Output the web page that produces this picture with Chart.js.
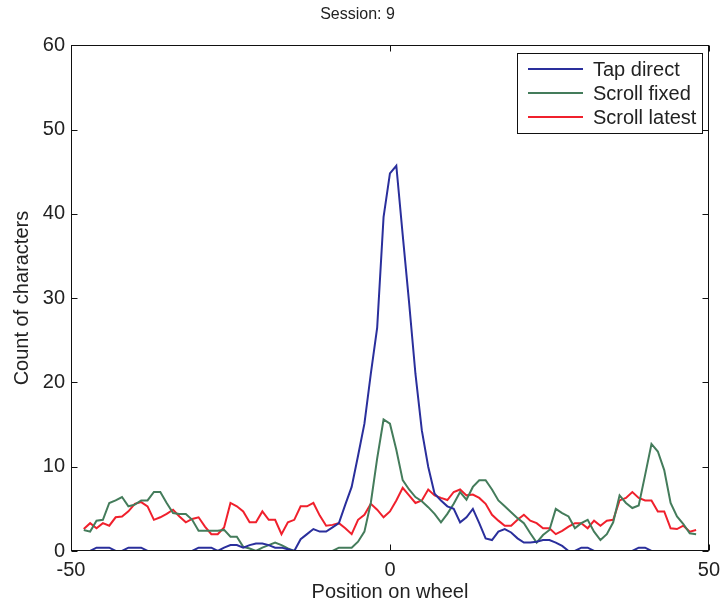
<!DOCTYPE html>
<html>
<head>
  <meta charset="utf-8" />
  <title>Session: 9</title>
  <script src="https://cdn.jsdelivr.net/npm/chart.js"></script>
  <style>
    body { margin: 0; background: #fff; }
    canvas { display: block; }
  </style>
</head>
<body>
  <canvas id="wheelChart" width="727" height="608"></canvas>
<script>
// positions on the wheel, -48 .. 48
const positions = [];
for (let p = -48; p <= 48; p++) positions.push(p);

const tapDirect = [
  0, 0, 0.4, 0.4, 0.4, 0, 0, 0.4, 0.4, 0.4,
  0, 0, 0, 0, 0, 0, 0, 0, 0.4, 0.4,
  0.4, 0, 0.4, 0.7, 0.7, 0.4, 0.7, 0.9, 0.9, 0.7,
  0.4, 0.4, 0.2, 0, 1.4, 2.0, 2.6, 2.3, 2.3, 2.8,
  3.3, 5.5, 7.6, 11.3, 15.1, 21.0, 26.5, 39.6, 44.8, 45.7,
  37.5, 29.5, 21.0, 14.3, 10.0, 6.8, 6.0, 5.3, 5.0, 3.4,
  4.0, 5.0, 3.3, 1.5, 1.3, 2.3, 2.6, 2.2, 1.5, 1.0,
  1.0, 1.1, 1.3, 1.3, 1.0, 0.6, 0, 0, 0.4, 0.4,
  0, 0, 0, 0, 0, 0, 0, 0.4, 0.4, 0,
  0, 0, 0, 0, 0, 0, 0
];

const scrollFixed = [
  2.5, 2.3, 3.6, 3.7, 5.7, 6.0, 6.4, 5.3, 5.5, 6.0,
  6.0, 7.0, 7.0, 5.7, 4.5, 4.4, 4.4, 3.7, 2.4, 2.4,
  2.4, 2.4, 2.5, 1.7, 1.7, 0.5, 0.3, 0, 0.4, 0.7,
  1.0, 0.7, 0.3, 0, 0, 0, 0, 0, 0, 0,
  0.4, 0.4, 0.4, 1.1, 2.3, 5.7, 11.0, 15.6, 15.1, 12.0,
  8.4, 7.3, 6.4, 5.9, 5.2, 4.4, 3.4, 4.4, 5.6, 7.0,
  6.1, 7.6, 8.4, 8.4, 7.3, 6.0, 5.3, 4.6, 3.9, 3.3,
  2.1, 1.0, 1.9, 2.5, 5.0, 4.5, 4.1, 2.7, 3.3, 3.7,
  2.3, 1.3, 2.0, 3.4, 6.6, 5.7, 5.1, 5.4, 9.0, 12.7,
  11.8, 9.6, 5.7, 4.1, 3.2, 2.1, 2.0
];

const scrollLatest = [
  2.6, 3.3, 2.7, 3.3, 3.0, 4.0, 4.1, 4.7, 5.6, 5.8,
  5.3, 3.7, 4.0, 4.4, 4.9, 4.1, 3.4, 3.8, 4.0, 2.9,
  2.0, 2.0, 2.8, 5.7, 5.3, 4.7, 3.4, 3.4, 4.7, 3.7,
  3.7, 2.0, 3.4, 3.7, 5.3, 5.3, 5.7, 4.2, 3.0, 3.1,
  3.3, 2.7, 2.0, 3.7, 4.3, 5.6, 4.9, 4.0, 4.7, 6.0,
  7.5, 6.6, 5.7, 6.0, 7.3, 6.6, 6.3, 6.05, 7.0, 7.3,
  6.6, 6.7, 6.3, 5.6, 4.3, 3.6, 3.0, 3.0, 3.7, 4.3,
  3.6, 3.3, 2.7, 2.7, 2.0, 2.4, 2.9, 3.3, 3.3, 2.7,
  3.6, 3.0, 3.6, 3.7, 6.0, 6.3, 7.0, 6.3, 6.0, 6.0,
  4.7, 4.7, 2.7, 2.6, 3.0, 2.3, 2.5
];

const seriesNames = ['Tap direct', 'Scroll fixed', 'Scroll latest'];
const seriesColors = ['#2a2f9c', '#447c5b', '#f0202c'];
const xTicks = [-50, 0, 50];
const yTicks = [0, 10, 20, 30, 40, 50, 60];

const FONT = "'Liberation Sans', Arial, Helvetica, sans-serif";
Chart.defaults.font.family = FONT;
Chart.defaults.font.size = 20;
Chart.defaults.color = '#222';

function points(values) {
  return positions.map((x, i) => ({ x: x, y: values[i] }));
}

// box around the axes with inward ticks on all four sides, plus the legend
const boxPlugin = {
  id: 'matlabBox',
  afterDatasetsDraw(chart) {
    const { ctx, chartArea: a, scales } = chart;
    const L = Math.round(a.left) + 0.5, R = Math.round(a.right) - 0.5;
    const T = Math.round(a.top) + 0.5, B = Math.round(a.bottom) - 0.5;
    ctx.save();
    ctx.strokeStyle = '#111';
    ctx.lineWidth = 1;
    ctx.strokeRect(L, T, R - L, B - T);
    ctx.beginPath();
    scales.y.ticks.forEach(t => {
      const y = Math.round(scales.y.getPixelForValue(t.value)) + 0.5;
      ctx.moveTo(L, y); ctx.lineTo(L + 6, y);
      ctx.moveTo(R, y); ctx.lineTo(R - 6, y);
    });
    scales.x.ticks.forEach(t => {
      const x = Math.round(scales.x.getPixelForValue(t.value)) + 0.5;
      ctx.moveTo(x, B); ctx.lineTo(x, B - 6);
      ctx.moveTo(x, T); ctx.lineTo(x, T + 6);
    });
    ctx.stroke();
    ctx.restore();
  },
  afterDraw(chart) {
    const { ctx } = chart;
    const box = { x: 517.5, y: 53.5, w: 185, h: 80 };
    ctx.save();
    ctx.fillStyle = '#fff';
    ctx.fillRect(box.x, box.y, box.w, box.h);
    ctx.strokeStyle = '#111';
    ctx.lineWidth = 1;
    ctx.strokeRect(box.x, box.y, box.w, box.h);
    ctx.font = '20px ' + FONT;
    ctx.textBaseline = 'middle';
    chart.data.datasets.forEach((ds, i) => {
      const y = 69 + i * 24;
      ctx.strokeStyle = ds.borderColor;
      ctx.lineWidth = 2;
      ctx.beginPath();
      ctx.moveTo(528, y); ctx.lineTo(583, y);
      ctx.stroke();
      ctx.fillStyle = '#222';
      ctx.fillText(ds.label, 593, y + 1);
    });
    ctx.restore();
  }
};

new Chart(document.getElementById('wheelChart'), {
  type: 'line',
  data: {
    datasets: [tapDirect, scrollFixed, scrollLatest].map((vals, i) => ({
      label: seriesNames[i],
      data: points(vals),
      borderColor: seriesColors[i],
      backgroundColor: seriesColors[i],
      borderWidth: 2,
      pointRadius: 0,
      tension: 0,
      fill: false
    }))
  },
  options: {
    responsive: false,
    animation: false,
    devicePixelRatio: 1,
    layout: { padding: { top: 0, right: 12, bottom: 0, left: 0 } },
    plugins: {
      legend: { display: false },
      tooltip: { enabled: false },
      title: {
        display: true,
        text: 'Session: 9',
        font: { size: 16, weight: 'normal' },
        padding: { top: 5, bottom: 21 }
      }
    },
    scales: {
      x: {
        type: 'linear',
        min: -50,
        max: 50,
        afterBuildTicks: s => { s.ticks = xTicks.map(v => ({ value: v })); },
        ticks: { padding: 7, maxRotation: 0 },
        grid: { display: false, drawTicks: false },
        border: { display: false },
        title: { display: true, text: 'Position on wheel', padding: { top: 0, bottom: 4 } },
        afterFit: s => { s.height = 57; }
      },
      y: {
        min: 0,
        max: 60,
        afterBuildTicks: s => { s.ticks = yTicks.map(v => ({ value: v })); },
        ticks: { padding: 6 },
        grid: { display: false, drawTicks: false },
        border: { display: false },
        title: { display: true, text: 'Count of characters', padding: { top: 10, bottom: 0 } },
        afterFit: s => { s.width = 71; }
      }
    }
  },
  plugins: [boxPlugin]
});
</script>
</body>
</html>
